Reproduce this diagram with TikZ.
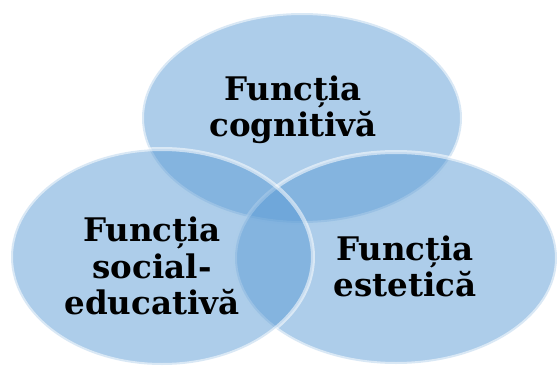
\documentclass[tikz,border=0pt]{standalone}
\usepackage{fontspec}
\setmainfont{DejaVu Serif}
\usetikzlibrary{shapes.geometric}
\definecolor{vennblue}{RGB}{91,155,213}
\tikzset{
  venn/.style={ellipse, inner sep=0pt, fill=vennblue, fill opacity=0.5,
    draw=white, draw opacity=0.55, line width=4pt},
  label/.style={align=center, inner sep=0pt, text=black, text opacity=1,
    font=\bfseries\fontsize{32.5}{36.5}\selectfont}
}
\begin{document}
\begin{tikzpicture}[x=1pt,y=-1pt]
\useasboundingbox (0,0) rectangle (558,367);
\node[venn, minimum width=320pt, minimum height=210pt] (top) at (302,118) {};
\node[venn, minimum width=322pt, minimum height=212pt] (right) at (396,258) {};
\node[venn, minimum width=302pt, minimum height=216pt] (left) at (162,257) {};
\node[label] (ttop) at (293,110) {Funcția\\cognitivă};
\node[label] (tleft) at (152,266) {Funcția\\social-\\educativă};
\node[label] (tright) at (405,266.5) {Funcția\\estetică};
\end{tikzpicture}
\end{document}
